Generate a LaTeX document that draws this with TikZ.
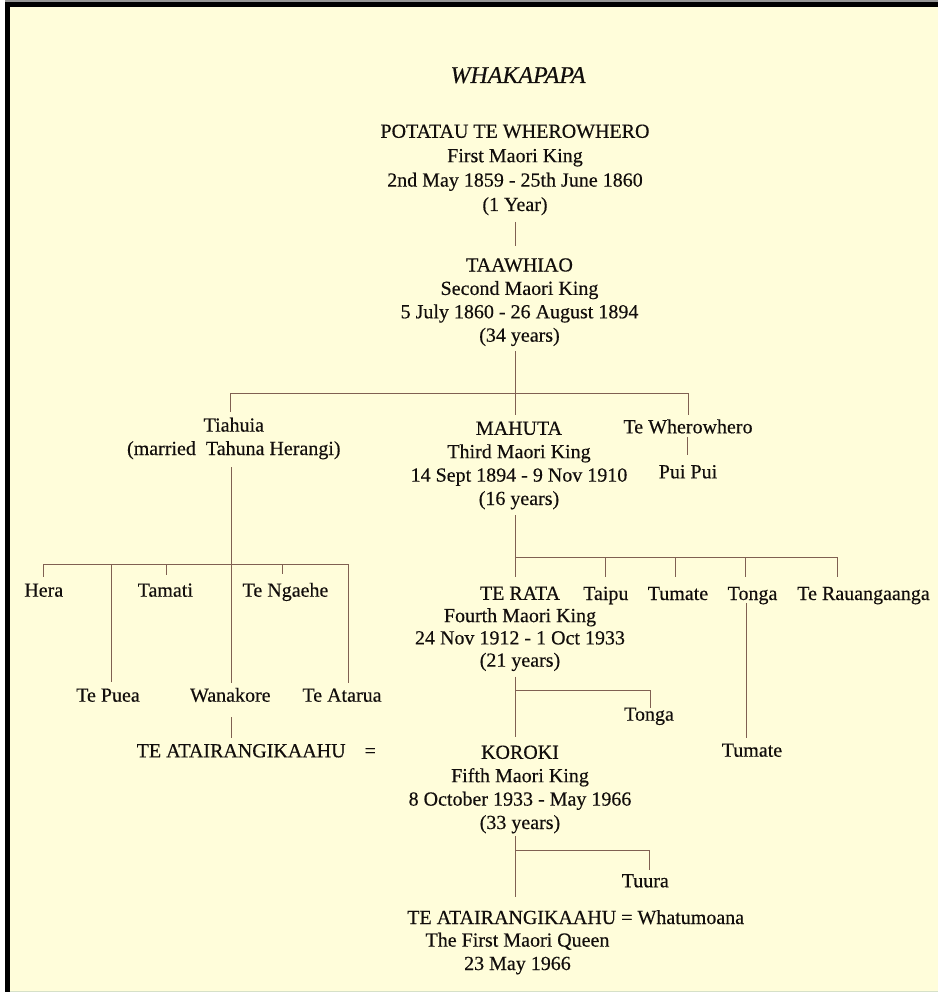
\documentclass[tikz,border=0pt]{standalone}
\usepackage{fontspec}
\setmainfont{Liberation Serif}[FakeBold=0.35]
\definecolor{paper}{RGB}{255,253,218}
\definecolor{ink}{RGB}{18,14,12}
\definecolor{twig}{RGB}{128,96,82}
\definecolor{frameedge}{RGB}{150,150,150}
\definecolor{bottomedge}{RGB}{214,224,200}

\begin{document}
\begin{tikzpicture}[x=1pt,y=-1pt,
  every node/.style={inner sep=0pt, outer sep=0pt, text=ink,
    font=\fontsize{20}{23.4}\selectfont},
  person/.style={anchor=base},
  % a block is placed by the baseline of its last line
  block/.style={anchor=base, align=center},
  heading/.style={anchor=base, font=\fontsize{24}{28}\selectfont\itshape},
  kin/.style={draw=twig, line width=1pt},
]
% page, paper and the dark frame on the top and left edges
\useasboundingbox (0,0) rectangle (938,992);
\fill[white] (0,0) rectangle (938,992);
\fill[paper] (5,0) rectangle (938,992);
\fill[frameedge] (5,0) rectangle (938,2);
\fill[black] (5,2) rectangle (938,7.5);
\fill[black] (5,2) rectangle (9.5,992);
\fill[bottomedge] (9.5,990.5) rectangle (938,992);

% ---------- names ----------
\node[heading] (title) at (518,83) {WHAKAPAPA};

\node[block, font=\fontsize{20}{24.4}\selectfont] (potatau) at (515,211)
  {POTATAU TE WHEROWHERO\\First Maori King\\2nd May 1859 - 25th June 1860\\(1 Year)};

\node[block] (taawhiao) at (519.5,341.7)
  {TAAWHIAO\\Second Maori King\\5 July 1860 - 26 August 1894\\(34 years)};

\node[block] (tiahuia) at (233.8,455) {Tiahuia\\(married\ \ Tahuna Herangi)};
\node[block] (mahuta) at (519,505)
  {MAHUTA\\Third Maori King\\14 Sept 1894 - 9 Nov 1910\\(16 years)};
\node[person] (tewherowhero) at (688,433.3) {Te Wherowhero};
\node[person] (puipui) at (688,478.3) {Pui Pui};

\node[person] (hera) at (43.8,596.7) {Hera};
\node[person] (tamati) at (165.3,596.7) {Tamati};
\node[person] (tengaehe) at (285.5,596.7) {Te Ngaehe};
\node[person] (tepuea) at (108,701.7) {Te Puea};
\node[person] (wanakore) at (230.3,701.7) {Wanakore};
\node[person] (teatarua) at (342,701.7) {Te Atarua};
\node[anchor=base west] (atairangi) at (136.7,757.3) {TE ATAIRANGIKAAHU\hspace{19pt}=};

\node[block, font=\fontsize{20}{22.3}\selectfont] (terata) at (520,666.7)
  {TE RATA\\Fourth Maori King\\24 Nov 1912 - 1 Oct 1933\\(21 years)};
\node[person] (taipu) at (605.8,600) {Taipu};
\node[person] (tumate) at (678,600) {Tumate};
\node[person] (tonga) at (752.5,600) {Tonga};
\node[person] (rauangaanga) at (863.5,600) {Te Rauangaanga};
\node[person] (tongajr) at (649,720.7) {Tonga};
\node[person] (tumatejr) at (752,756.7) {Tumate};

\node[block] (koroki) at (520,829)
  {KOROKI\\Fifth Maori King\\8 October 1933 - May 1966\\(33 years)};
\node[person] (tuura) at (645.3,887.3) {Tuura};

\node[anchor=base west] (queen) at (407.3,924) {TE ATAIRANGIKAAHU = Whatumoana};
\node[block] (queentitle) at (517.5,970) {The First Maori Queen\\23 May 1966};

% ---------- line of descent ----------
\coordinate (potatau-down) at (515,222);
\coordinate (taawhiao-up) at (515,246);
\coordinate (taawhiao-down) at (515,351);
\coordinate (taawhiao-bar) at (515,393);
\coordinate (tiahuia-up) at (230,393);
\coordinate (mahuta-up) at (515,393);
\coordinate (tewherowhero-up) at (688,393);
\coordinate (mahuta-down) at (515.5,515);
\coordinate (mahuta-bar) at (515.5,557.3);
\coordinate (terata-down) at (515.5,676.7);
\coordinate (terata-bar) at (515.5,690.7);
\coordinate (koroki-up) at (515.5,736.7);
\coordinate (koroki-down) at (515,836);
\coordinate (koroki-bar) at (515,850.7);
\coordinate (queen-up) at (515,896.7);

\draw[kin] (potatau-down) -- (taawhiao-up);
\draw[kin] (taawhiao-down) -- (taawhiao-bar);
\draw[kin] (tiahuia-up) -- (tewherowhero-up);
\draw[kin] (tiahuia-up) -- ++(0,18.7);
\draw[kin] (mahuta-up) -- ++(0,22);
\draw[kin] (tewherowhero-up) -- ++(0,22);
\draw[kin] (687.5,437.3) coordinate (tewherowhero-down) -- (687.5,455) coordinate (puipui-up);

% children of Tiahuia
\coordinate (tiahuia-down) at (231,467);
\draw[kin] (tiahuia-down) -- (231,683) coordinate (wanakore-up);
\draw[kin] (43.3,564.3) coordinate (hera-up) -- (348.3,564.3) coordinate (teatarua-bar);
\draw[kin] (hera-up) -- ++(0,12.7);
\draw[kin] (166.7,564.3) coordinate (tamati-up) -- ++(0,10.7);
\draw[kin] (282.7,564.3) coordinate (tengaehe-up) -- ++(0,9.7);
\draw[kin] (111.7,564.3) coordinate (tepuea-bar) -- (111.7,682) coordinate (tepuea-up);
\draw[kin] (teatarua-bar) -- (348.3,683) coordinate (teatarua-up);
\draw[kin] (231,717.3) coordinate (wanakore-down) -- (231,738.3) coordinate (atairangi-up);

% children of Mahuta
\draw[kin] (mahuta-down) -- (mahuta-bar);
\draw[kin] (mahuta-bar) -- (837.3,557.3) coordinate (rauangaanga-bar);
\foreach \x/\who in {515.5/terata, 605/taipu, 675/tumate, 745.7/tonga, 837.3/rauangaanga}
  \draw[kin] (\x,557.3) -- (\x,576.7) coordinate (\who-up);
\draw[kin] (746,603.3) coordinate (tonga-down) -- (746,738.3) coordinate (tumatejr-up);

% children of Te Rata
\draw[kin] (terata-down) -- (koroki-up);
\draw[kin] (terata-bar) -- (650,690.7) coordinate (tongajr-bar) -- (650,708.3) coordinate (tongajr-up);

% children of Koroki
\draw[kin] (koroki-down) -- (queen-up);
\draw[kin] (koroki-bar) -- (649.3,850.7) coordinate (tuura-bar) -- (649.3,870) coordinate (tuura-up);
\end{tikzpicture}
\end{document}
